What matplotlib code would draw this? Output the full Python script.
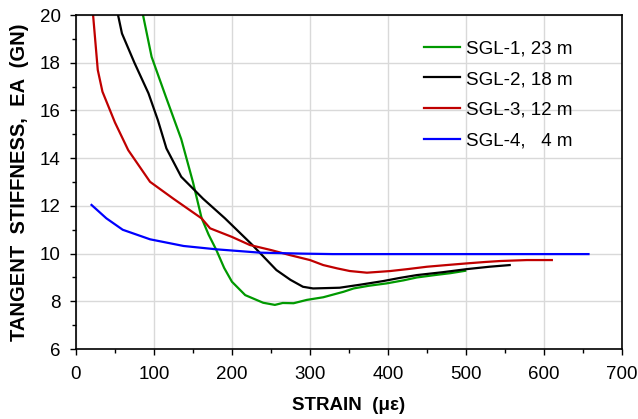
import matplotlib
matplotlib.use("Agg")
import matplotlib.pyplot as plt
import numpy as np

plt.rcParams['font.family'] = ['Liberation Sans', 'DejaVu Sans']

# SGL-1, 23 m
sgl1_x = [86, 97, 115, 135, 150, 161, 170, 180, 190, 200, 217, 240, 255, 265, 279, 296, 317, 343, 356, 375, 398, 420, 437, 460, 480, 499]
sgl1_y = [20.0, 18.25, 16.6, 14.8, 13.0, 11.5, 10.8, 10.15, 9.4, 8.82, 8.26, 7.94, 7.85, 7.93, 7.92, 8.06, 8.17, 8.4, 8.54, 8.65, 8.75, 8.88, 9.0, 9.1, 9.18, 9.28]
# SGL-2, 18 m
sgl2_x = [54, 59, 75, 93, 105, 116, 135, 163, 191, 225, 257, 275, 291, 304, 338, 365, 394, 415, 437, 470, 501, 530, 556]
sgl2_y = [20.0, 19.23, 18.0, 16.72, 15.6, 14.41, 13.22, 12.3, 11.48, 10.4, 9.31, 8.9, 8.61, 8.54, 8.57, 8.7, 8.85, 8.98, 9.1, 9.22, 9.35, 9.45, 9.52]
# SGL-3, 12 m
sgl3_x = [22, 28, 34, 50, 67, 95, 125, 161, 172, 200, 223, 250, 274, 300, 317, 335, 351, 373, 403, 425, 450, 475, 501, 525, 544, 578, 610]
sgl3_y = [20.0, 17.7, 16.79, 15.5, 14.34, 13.01, 12.3, 11.48, 11.06, 10.7, 10.36, 10.15, 9.94, 9.73, 9.52, 9.38, 9.27, 9.2, 9.27, 9.35, 9.45, 9.52, 9.59, 9.65, 9.69, 9.73, 9.73]
# SGL-4, 4 m
sgl4_x = [20, 39, 60, 95, 138, 180, 236, 290, 329, 400, 500, 600, 657]
sgl4_y = [12.04, 11.48, 11.0, 10.6, 10.32, 10.18, 10.04, 10.0, 9.98, 9.98, 9.98, 9.98, 9.98]

labels = ['SGL-1, 23 m', 'SGL-2, 18 m', 'SGL-3, 12 m', 'SGL-4,   4 m']
colors = ['#009900', '#000000', '#c00000', '#0000ff']

fig = plt.figure(figsize=(6.38, 4.19), dpi=100)
ax = fig.add_axes([0.119, 0.167, 0.856, 0.797])

series = [(sgl1_x, sgl1_y), (sgl2_x, sgl2_y), (sgl3_x, sgl3_y), (sgl4_x, sgl4_y)]
for (xs, ys), lab, c in zip(series, labels, colors):
    ax.plot(xs, ys, color=c, lw=1.6, label=lab)

ax.set_xlim(0, 700)
ax.set_ylim(6, 20)
ax.set_xticks(np.arange(0, 701, 100))
ax.set_xticks(np.arange(0, 701, 50), minor=True)
ax.set_yticks(np.arange(6, 21, 2))
ax.set_yticks(np.arange(6, 21, 1), minor=True)
ax.grid(True, which='major', color='#d9d9d9', lw=1)
ax.set_axisbelow(True)
ax.tick_params(which='major', direction='out', length=4, width=1, labelsize=13.5)
ax.tick_params(axis='x', which='major', pad=8)
ax.tick_params(axis='y', which='major', pad=7)
ax.tick_params(which='minor', direction='out', length=3, width=1)
for sp in ax.spines.values():
    sp.set_linewidth(1.2)

ax.set_xlabel('STRAIN  (\u03bc\u03b5)', fontsize=13.5, fontweight='bold', labelpad=10)
ax.set_ylabel('TANGENT  STIFFNESS,  EA  (GN)', fontsize=14.5, fontweight='bold', labelpad=8)

ax.legend(loc='upper left', bbox_to_anchor=(0.607, 0.975), frameon=False, fontsize=13.5,
          handlelength=1.9, handletextpad=0.3, labelspacing=0.72)

fig.savefig('out.png', dpi=100)
